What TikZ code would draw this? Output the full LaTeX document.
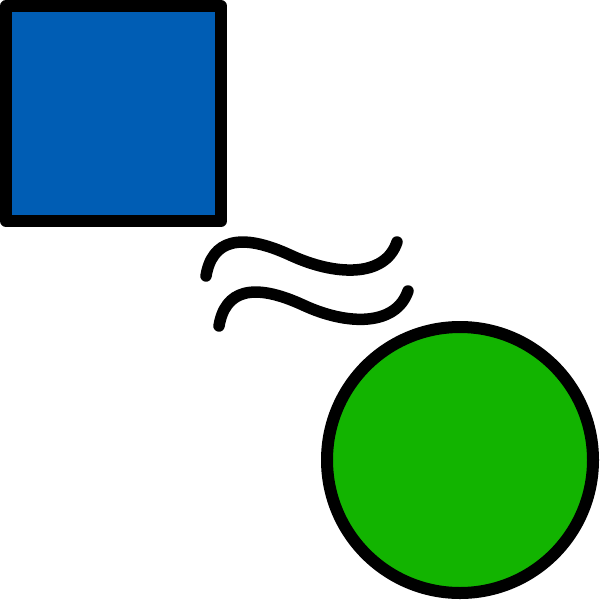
\documentclass[tikz,border=0pt]{standalone}
\definecolor{squareblue}{RGB}{0,93,180}
\definecolor{circlegreen}{RGB}{18,180,0}
\begin{document}
\begin{tikzpicture}[x=0.01cm, y=-0.01cm,
    outline/.style={draw=black, line width=0.12cm, line join=round},
    wave/.style={draw=black, line width=0.115cm, line cap=round}]
    \useasboundingbox (0,0) rectangle (600,600);
    \filldraw[outline, fill=squareblue] (6,6) rectangle (221,221);
    \filldraw[outline, fill=circlegreen] (460,460) circle (133);
    \draw[wave] (206,276) .. controls (212,240) and (240,232) .. (290,255)
        .. controls (335,276) and (385,278) .. (397,242);
    \draw[wave] (219,326) .. controls (225,290) and (253,282) .. (303,305)
        .. controls (348,326) and (396,326) .. (408,291);
\end{tikzpicture}
\end{document}
